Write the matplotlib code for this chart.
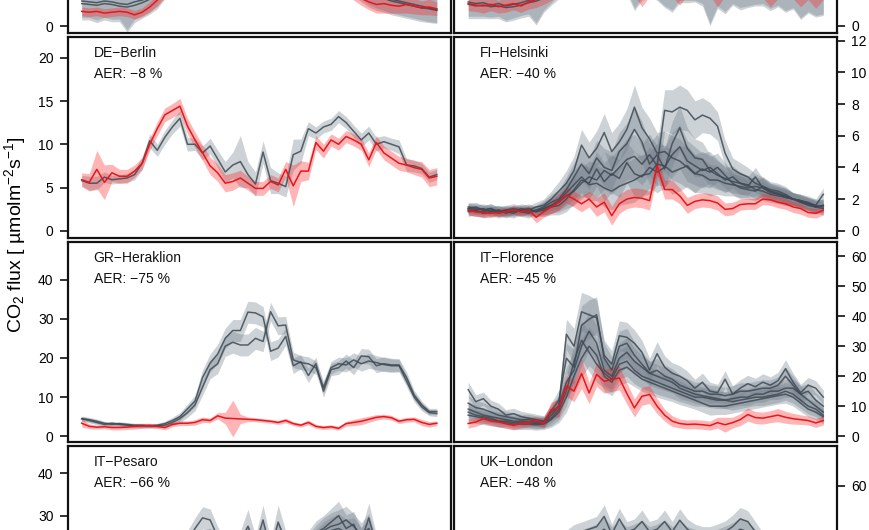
import numpy as np
import matplotlib
matplotlib.use("Agg")
import matplotlib.pyplot as plt

plt.rcParams['font.family'] = ['Liberation Sans', 'DejaVu Sans']
plt.rcParams['mathtext.fontset'] = 'custom'
plt.rcParams['mathtext.rm'] = 'Liberation Sans'
plt.rcParams['mathtext.it'] = 'Liberation Sans:italic'

# ---- data: half-hourly mean CO2 flux (48 steps), grey = reference years, red = lockdown ----
n_steps = 48

# top row (only the lower edge is inside the crop)
tl_gray = [
    [2.9,2.8,2.7,2.9,2.8,2.6,2.5,2.8,3.0,3.4,4.2,5.5,7.0,8.5,10.0,11.0,11.5,11.8,11.0,10.5,10.2,9.8,9.5,9.6,
     9.8,10.2,10.8,11.5,12.0,11.8,11.2,10.5,9.5,8.5,7.5,6.5,5.6,4.8,4.2,3.8,3.4,3.1,2.9,2.7,2.5,2.3,2.1,1.9],
    [2.6,2.5,2.4,2.6,2.5,2.3,2.2,2.4,2.7,3.1,3.8,5.0,6.5,8.0,9.5,10.5,11.0,11.2,10.6,10.0,9.6,9.4,9.2,9.3,
     9.5,9.9,10.4,11.0,11.4,11.2,10.7,10.0,9.2,8.2,7.2,6.2,5.3,4.5,3.9,3.5,3.2,2.9,2.7,2.5,2.3,2.1,2.0,1.8],
]
tl_gray_sd = [1.9,1.8,2.0,1.9,2.0,1.8,2.9,2.0,1.8,1.7,1.8,1.8,1.8,1.9,2.0,2.0,2.0,2.0,2.0,2.0,2.0,2.0,2.0,2.0,
              2.0,2.0,2.0,2.0,2.0,2.0,2.0,2.0,2.0,1.9,1.8,1.8,1.8,1.7,1.7,1.7,1.6,1.6,1.6,1.6,1.6,1.6,1.6,1.5]
tl_red = [1.7,1.6,1.7,1.5,1.6,1.7,1.6,1.3,1.6,2.2,3.0,4.0,5.2,6.5,7.8,8.6,9.0,9.2,8.8,8.4,8.0,7.8,7.6,7.7,
          7.9,8.2,8.6,9.0,9.3,9.0,8.4,7.6,6.8,6.0,5.2,4.5,3.8,3.2,2.8,2.5,2.6,2.4,2.3,2.5,2.3,2.1,2.2,2.0]
tl_red_sd = [0.5,0.5,0.5,0.5,0.5,0.5,0.5,0.5,0.5,0.6,0.7,0.8,0.8,0.8,0.8,0.8,0.8,0.8,0.8,0.8,0.8,0.8,0.8,0.8,
             0.8,0.8,0.8,0.8,0.8,0.8,0.8,0.8,0.8,0.8,0.8,0.8,0.8,0.8,0.9,1.0,1.1,0.9,0.8,1.0,0.9,0.8,0.9,0.8]

tr_gray = [
    [3.0,2.8,2.9,2.6,2.8,2.5,2.7,2.9,3.2,3.4,3.8,4.5,5.5,6.5,7.5,8.0,8.5,8.8,8.6,8.2,7.5,6.8,6.0,5.5,
     5.8,5.2,5.0,5.4,5.2,5.0,4.8,5.2,4.9,5.0,4.8,4.6,4.9,4.7,4.5,4.8,4.6,4.4,4.5,4.3,4.2,4.4,4.1,3.9],
    [2.7,2.5,2.6,2.4,2.5,2.3,2.4,2.6,2.9,3.1,3.5,4.2,5.0,6.0,7.0,7.6,8.0,8.2,8.0,7.6,7.0,6.4,5.7,5.2,
     5.4,5.0,4.8,5.1,4.9,4.7,4.6,4.9,4.6,4.7,4.5,4.4,4.6,4.5,4.3,4.5,4.3,4.2,4.3,4.1,4.0,4.2,3.9,3.7],
]
tr_gray_sd = [1.8,1.6,1.7,1.5,1.6,1.8,1.7,1.6,1.7,3.0,1.8,1.6,1.6,1.8,2.0,2.0,2.2,2.2,2.2,2.2,2.2,2.4,3.8,2.0,
              1.8,1.8,2.5,3.4,2.0,1.8,1.6,2.4,4.6,2.5,3.0,1.8,2.6,2.2,1.8,2.0,2.4,1.8,2.6,2.0,3.2,2.6,2.8,2.4]
tr_red = [2.8,2.6,2.5,2.7,2.4,2.6,2.8,2.5,3.0,3.3,3.7,4.2,4.8,5.4,5.8,6.0,6.2,6.0,5.6,5.2,5.0,4.9,4.8,4.8,
          4.7,4.9,4.8,4.7,4.8,4.9,4.7,4.6,4.8,4.6,4.7,4.6,4.5,4.6,4.7,4.5,4.6,4.4,4.5,4.4,4.5,4.3,4.2,4.3]
tr_red_sd = [0.9,0.8,0.9,0.8,0.8,0.9,0.8,0.8,0.9,1.0,1.0,1.0,1.0,1.0,1.0,1.0,1.0,1.0,1.0,1.0,1.0,1.0,1.0,2.4,
             1.0,1.0,1.0,1.0,2.2,1.0,1.0,1.0,1.0,2.2,1.0,1.0,1.0,1.0,1.0,1.0,2.2,1.0,1.0,1.0,2.1,1.0,2.0,1.0]

# DE-Berlin
berlin_gray = [
    [5.8,5.5,5.5,6.2,5.9,6.0,6.1,6.5,7.8,10.4,9.3,10.8,12.0,13.0,10.0,10.0,9.0,9.8,8.3,6.8,7.6,8.0,6.5,5.4,
     9.1,5.8,5.5,5.1,8.8,9.2,11.8,11.3,12.0,12.3,13.2,12.5,11.5,10.5,11.3,10.0,10.3,10.0,9.7,7.6,7.5,7.2,6.2,6.5],
]
berlin_gray_sd = [0.6,0.8,0.8,0.6,0.5,0.5,0.5,0.6,0.7,0.8,0.7,0.8,0.8,0.9,0.8,0.7,0.8,0.9,1.0,1.2,1.5,3.0,1.5,1.4,
                  1.3,1.5,1.2,1.2,1.8,1.4,0.8,0.7,0.7,0.7,0.7,0.7,0.7,0.8,0.8,0.8,0.7,0.7,0.8,0.7,0.7,0.6,0.6,0.6]
berlin_red = [5.9,5.6,7.1,5.6,6.7,6.3,6.3,6.9,7.8,10.0,11.8,13.4,13.9,14.4,12.1,10.5,9.0,7.5,6.7,5.5,5.7,6.1,5.5,4.9,
              4.9,5.7,5.3,7.1,5.2,6.9,6.9,10.2,9.2,10.5,10.0,10.9,10.5,10.0,8.2,10.2,9.0,8.4,7.8,7.6,7.3,7.1,6.1,6.3]
berlin_red_sd = [0.8,1.0,2.2,2.0,1.0,0.8,0.8,0.7,0.7,0.7,0.8,0.8,0.8,0.9,0.9,0.9,0.9,1.0,1.0,1.0,1.0,0.9,0.8,0.8,
                 0.8,0.8,0.8,0.9,2.4,1.2,1.0,0.8,0.8,0.7,0.7,0.7,0.7,0.7,0.8,0.8,0.8,0.8,0.8,0.8,0.8,0.9,1.0,1.0]

# FI-Helsinki
hel_gray = [
    [1.5,1.4,1.3,1.4,1.2,1.3,1.2,1.4,1.3,1.5,1.6,2.0,2.5,3.0,3.8,5.4,4.6,5.2,6.2,5.0,5.6,6.4,7.8,6.5,
     5.8,4.9,5.0,4.6,4.4,4.0,3.6,3.5,3.2,3.2,3.0,2.9,2.8,2.7,2.8,2.7,2.5,2.3,2.1,2.0,1.9,1.7,1.6,2.3],
    [1.4,1.3,1.4,1.2,1.3,1.1,1.3,1.2,1.3,1.2,1.4,1.6,1.8,2.2,2.5,3.0,3.4,3.2,3.8,3.5,4.0,4.5,4.7,4.2,
     4.8,4.1,7.6,7.5,7.8,7.6,7.0,7.3,7.1,6.6,4.9,3.9,3.6,3.4,3.0,2.8,2.6,2.5,2.3,2.0,1.9,1.7,1.5,1.6],
    [1.3,1.2,1.2,1.3,1.1,1.2,1.3,1.2,1.1,1.3,1.5,1.8,2.0,2.6,3.4,4.2,3.6,4.6,4.0,3.8,5.0,5.5,6.4,5.6,
     4.2,4.8,3.9,5.5,6.5,5.2,4.6,4.5,3.8,3.5,3.3,3.1,3.0,2.9,2.6,2.5,2.3,2.2,2.1,2.0,1.8,1.7,1.5,1.6],
    [1.2,1.3,1.1,1.2,1.3,1.2,1.1,1.3,1.4,1.2,1.3,1.5,1.6,2.0,2.6,3.2,3.0,3.9,3.1,3.6,3.3,4.3,3.6,3.4,
     4.0,3.7,4.0,4.8,5.3,4.4,4.1,3.8,4.0,3.6,3.2,3.4,3.0,2.8,3.4,2.7,2.4,2.3,2.2,2.0,1.8,1.6,1.5,1.4],
    [1.4,1.5,1.3,1.4,1.2,1.3,1.4,1.3,1.2,1.3,1.4,1.6,1.9,2.4,2.9,3.4,2.9,3.0,2.7,2.5,2.8,3.0,3.2,3.5,
     3.6,4.2,4.1,3.7,3.9,4.1,3.6,3.9,3.7,4.0,3.5,3.0,2.7,2.6,2.5,2.8,2.5,2.4,2.2,2.0,1.9,1.8,1.6,1.5],
]
hel_gray_sd = [0.3,0.3,0.3,0.3,0.3,0.3,0.3,0.3,0.3,0.3,0.4,0.5,0.6,0.8,0.9,1.0,1.0,1.1,1.2,1.2,1.2,1.3,1.4,1.3,
               1.3,1.3,1.3,1.4,1.4,1.3,1.2,1.1,1.0,0.9,0.8,0.7,0.7,0.6,0.6,0.6,0.5,0.5,0.5,0.4,0.4,0.4,0.4,0.4]
hel_red = [1.3,1.2,1.15,1.1,1.15,1.2,1.3,1.2,1.3,0.85,1.2,1.5,1.8,2.25,2.0,1.7,2.0,1.5,1.8,0.95,1.7,2.0,2.1,2.05,
           1.9,4.1,2.6,2.6,2.2,1.6,1.85,1.95,1.9,1.75,1.35,1.4,1.65,1.7,1.7,2.0,1.95,1.8,1.7,1.5,1.4,1.15,1.1,1.3]
hel_red_sd = [0.3,0.3,0.3,0.25,0.25,0.25,0.25,0.25,0.25,0.35,0.35,0.4,0.5,0.5,0.5,0.5,0.5,0.6,0.6,0.6,0.6,0.6,0.6,0.6,
              0.6,0.6,0.6,0.6,0.5,0.5,0.45,0.45,0.45,0.45,0.4,0.4,0.35,0.35,0.35,0.35,0.35,0.35,0.35,0.35,0.35,0.3,0.3,0.3]

# GR-Heraklion
her_gray = [
    [4.5,4.2,3.8,3.3,3.0,3.2,3.0,2.8,2.8,2.6,2.8,3.2,4.0,5.0,7.0,9.0,15.0,18.7,21.0,25.0,27.0,27.0,31.7,31.5,
     30.5,21.7,22.5,25.5,18.0,19.0,15.5,18.5,11.5,17.0,17.5,19.2,17.5,20.5,20.3,18.0,18.5,18.2,18.2,15.0,10.5,8.0,6.3,6.3],
    [4.4,4.0,3.5,3.0,3.3,3.0,2.8,2.6,2.6,2.7,2.6,2.8,3.5,4.5,6.0,8.0,12.5,17.0,18.5,23.0,24.0,23.3,23.3,25.0,
     24.2,31.8,28.2,28.4,19.5,18.8,18.5,17.5,12.5,17.5,18.5,18.2,19.5,18.5,19.2,18.8,18.3,18.0,18.0,14.0,10.0,7.5,6.0,5.8],
]
her_gray_sd = [0.6,0.6,0.6,0.5,0.5,0.5,0.5,0.5,0.5,0.5,0.5,0.6,0.8,1.0,1.2,1.5,2.0,2.3,2.5,2.6,2.8,2.8,2.8,2.8,
               2.6,2.4,2.3,2.2,2.0,1.8,1.8,1.7,1.6,1.6,1.7,1.8,1.8,1.9,1.9,1.8,1.8,1.7,1.6,1.4,1.2,1.0,0.8,0.8]
her_red = [3.3,2.5,2.3,2.4,2.2,2.2,2.3,2.5,2.6,2.7,2.5,2.2,3.0,3.3,3.3,3.5,4.2,4.0,5.2,4.6,4.5,4.4,4.3,4.2,
           4.0,3.8,3.5,4.0,3.2,2.8,3.5,2.5,2.2,2.4,2.0,3.2,3.5,3.8,4.3,4.8,5.0,4.7,3.8,4.2,4.3,3.5,3.0,3.3]
her_red_sd = [1.0,0.6,0.5,0.5,0.6,0.6,0.6,0.7,0.6,0.6,0.5,0.6,0.6,0.6,0.6,0.7,0.7,0.6,0.8,1.5,4.7,1.2,0.6,0.5,
              0.5,0.5,0.5,0.6,0.5,0.5,0.6,0.5,0.5,0.5,0.5,0.6,0.8,0.9,0.8,0.7,0.6,0.6,0.6,0.6,0.6,0.8,0.7,0.6]

# IT-Florence
flo_gray = [
    [15.5,11.5,12.5,10.0,9.0,7.0,7.5,6.5,6.0,5.5,5.0,8.0,10.0,34.0,30.0,41.5,40.5,39.5,27.0,24.0,33.5,33.0,31.0,28.0,
     22.0,27.5,23.0,21.0,20.0,18.5,16.0,18.0,15.0,14.5,19.0,14.0,16.0,17.5,16.5,18.0,17.0,18.5,22.5,18.0,14.5,17.0,16.0,13.0],
    [11.0,9.5,9.0,8.0,7.0,6.5,6.0,5.5,5.5,5.0,4.8,8.5,12.0,26.0,23.0,37.0,39.0,40.5,26.0,22.0,30.0,31.0,27.0,24.0,
     21.0,22.0,20.0,19.0,17.0,16.0,15.0,15.0,14.0,14.0,13.5,14.0,15.0,15.0,15.5,16.0,16.0,17.0,20.0,17.0,14.0,15.0,12.0,10.0],
    [9.0,8.0,7.0,6.5,6.0,5.5,5.0,5.0,4.8,4.5,4.5,7.0,10.0,18.0,22.0,30.0,35.0,31.0,22.0,20.0,26.0,28.0,25.0,23.0,
     21.0,20.0,19.0,18.0,16.0,15.0,14.0,13.5,13.0,12.5,12.0,12.5,13.0,13.0,14.0,14.0,15.0,15.0,16.0,16.0,14.0,12.0,10.0,8.0],
    [8.0,7.0,6.5,6.0,5.0,5.0,4.5,4.5,4.5,4.2,4.5,6.0,9.0,15.0,25.0,32.0,28.0,24.0,21.0,19.0,24.0,25.0,22.0,20.0,
     19.0,18.0,17.0,16.0,15.0,14.0,13.0,13.0,12.5,12.0,12.0,11.5,12.0,12.5,13.0,13.0,13.5,14.0,15.0,14.0,12.0,10.0,9.0,7.0],
    [7.0,6.5,6.0,5.5,5.0,4.5,4.0,4.0,4.0,3.8,4.0,5.5,8.0,13.0,20.0,26.0,30.0,27.0,20.0,18.0,22.0,23.0,21.0,19.0,
     18.0,17.0,16.0,15.0,14.0,13.0,12.0,11.0,10.0,10.0,10.0,10.5,11.0,11.5,12.0,12.5,13.0,13.5,14.0,13.0,11.0,9.0,8.0,6.5],
]
flo_gray_sd = [2.5,2.3,2.2,2.0,2.0,1.8,1.8,1.8,1.8,1.8,1.8,2.5,3.5,5.0,6.0,6.5,6.5,6.0,5.0,4.5,5.0,5.0,4.5,4.0,
               4.0,4.0,3.8,3.5,3.5,3.2,3.0,3.0,3.0,2.8,2.8,2.8,2.8,2.8,2.8,2.8,2.8,2.8,3.0,3.0,2.8,2.6,2.5,2.4]
flo_red = [4.2,4.7,5.8,5.0,4.7,4.1,3.6,4.2,4.7,5.0,4.4,8.9,9.4,16.7,15.0,20.9,14.4,20.6,18.3,18.9,19.4,14.2,9.4,13.3,
           13.9,10.0,7.0,5.0,4.2,3.9,4.0,3.8,3.5,4.5,3.8,4.5,5.5,7.2,6.2,6.0,6.5,7.0,6.3,5.8,5.5,5.2,4.4,5.2]
flo_red_sd = [1.5,1.5,1.5,1.5,1.5,1.5,1.5,1.5,1.5,1.5,1.5,2.5,3.0,3.5,3.5,5.0,3.5,4.0,4.0,4.0,4.0,3.5,3.0,3.0,
              3.0,2.5,2.0,1.8,1.5,1.5,1.5,1.5,1.5,1.8,2.5,1.8,2.0,2.2,2.0,2.0,2.0,2.2,2.0,1.8,1.6,1.5,1.5,1.5]

# IT-Pesaro
pes_gray = [
    [7.5,6.8,6.0,5.5,5.2,5.0,5.2,5.8,7.0,9.0,12.0,16.0,19.0,22.0,24.0,27.0,29.5,29.0,25.0,22.0,23.0,24.0,27.5,23.0,
     29.0,22.0,28.5,24.0,23.0,22.5,24.0,26.0,27.0,28.5,30.0,27.0,28.0,24.0,29.5,23.0,20.0,18.0,16.0,14.0,12.0,10.5,9.0,8.0],
    [6.8,6.2,5.5,5.0,4.8,4.6,4.8,5.2,6.2,8.0,11.0,14.5,17.5,20.0,21.5,23.0,24.0,24.5,23.0,21.0,21.5,22.5,24.0,22.0,
     25.0,21.0,24.5,22.5,22.0,21.5,23.0,25.0,26.5,27.5,28.0,29.0,27.5,25.5,27.0,22.0,19.5,17.0,15.0,13.5,11.5,10.0,8.5,7.5],
    [6.0,5.5,5.0,4.6,4.4,4.2,4.4,4.8,5.6,7.2,10.0,13.0,16.0,18.5,20.0,21.0,22.0,22.5,21.5,20.0,20.5,21.0,22.0,21.0,
     22.5,20.5,22.0,21.5,21.0,21.0,22.0,24.0,25.5,26.5,27.0,26.0,26.5,24.5,25.5,21.0,19.0,16.5,14.5,13.0,11.0,9.5,8.0,7.0],
]
pes_gray_sd = [1.0,1.0,0.9,0.9,0.9,0.9,0.9,1.0,1.2,1.5,1.8,2.0,2.2,2.3,2.4,2.5,2.6,2.6,2.4,2.2,2.2,2.3,4.0,2.3,
               3.5,2.3,4.0,2.4,2.4,2.3,2.4,2.8,3.0,3.2,3.4,3.2,3.0,2.8,3.5,2.6,2.4,2.2,2.0,1.8,1.6,1.4,1.2,1.1]
pes_red = [4.2,3.9,3.6,3.4,3.2,3.1,3.2,3.4,3.8,4.6,5.4,6.2,7.0,7.4,7.6,7.8,8.0,7.9,7.4,7.2,7.4,7.6,7.8,7.6,
           7.9,7.6,7.7,7.8,7.6,7.4,7.6,7.9,8.2,8.4,8.5,8.2,8.0,7.8,8.0,7.0,6.4,5.8,5.4,5.0,4.7,4.4,4.2,4.0]
pes_red_sd = [0.8,0.8,0.7,0.7,0.7,0.7,0.7,0.7,0.8,0.9,1.0,1.1,1.2,1.2,1.3,1.3,1.3,1.3,1.2,1.2,1.2,1.2,1.3,1.2,
              1.3,1.2,1.2,1.2,1.2,1.2,1.2,1.3,1.3,1.3,1.4,1.3,1.3,1.2,1.3,1.2,1.1,1.0,1.0,0.9,0.9,0.8,0.8,0.8]

# UK-London
lon_gray = [
    [14,12,11,10,9.5,9,9.5,11,14,19,25,31,36,39,41,42,43,44,48,41,47,42,43,46,
     42,43,46,42,46.5,43,41,40,40,41,42,44,47,46,42,38,34,30,27,24,21,19,17,15],
    [12,11,10,9,8.5,8,8.5,10,12.5,17,22,28,33,36,38,39,40,41,43,40,42,40,41,42,
     40,41,42,40,42,40,39,38,38,39,40,41,43,42,39,35,31,28,25,22,20,18,16,14],
]
lon_gray_sd = [2.0,2.0,1.8,1.8,1.7,1.7,1.7,1.8,2.0,2.4,2.8,3.2,3.5,3.6,3.8,3.8,3.9,4.0,4.5,4.0,4.2,4.0,4.0,4.5,
               4.0,4.0,4.5,4.0,4.5,4.0,4.0,4.0,4.0,4.0,4.2,4.5,4.5,4.2,4.0,3.6,3.2,3.0,2.8,2.6,2.4,2.2,2.1,2.0]
lon_red = [9,8,7.5,7,6.8,6.5,7,8,9.5,12,15,17,19,20,21,21.5,22,22.5,23,22,22.5,22,22,22.5,
           22,22,22.5,22,22.5,22,21.5,21,21,21.5,22,22.5,23,22.5,21,19.5,18,16.5,15,14,13,12,11,10]
lon_red_sd = [1.5,1.4,1.3,1.3,1.2,1.2,1.2,1.3,1.5,1.8,2.0,2.2,2.3,2.4,2.5,2.5,2.5,2.5,2.6,2.5,2.5,2.5,2.5,2.5,
              2.5,2.5,2.5,2.5,2.5,2.5,2.4,2.4,2.4,2.4,2.5,2.5,2.6,2.5,2.4,2.3,2.2,2.0,1.9,1.8,1.7,1.6,1.5,1.5]

panel_names = ['', '', 'DE\u2212Berlin', 'FI\u2212Helsinki', 'GR\u2212Heraklion', 'IT\u2212Florence',
               'IT\u2212Pesaro', 'UK\u2212London']
panel_aer = [None, None, -8, -40, -75, -45, -66, -48]

# ---- layout (pixel based, the crop cuts the outer rows) ----
W, H = 870, 530
row_tops = [-167.7, 37, 241.7, 446.4]
col_lefts = [67.5, 454]
pw, ph = 383.5, 200.7

# only the ticks that fall inside the cropped picture are labelled
panels = [
    (tl_gray, tl_gray_sd, tl_red, tl_red_sd, (-0.8, 22.4), [0]),
    (tr_gray, tr_gray_sd, tr_red, tr_red_sd, (-0.9, 24.3), [0]),
    (berlin_gray, berlin_gray_sd, berlin_red, berlin_red_sd, (-0.8, 22.4), [0, 5, 10, 15, 20]),
    (hel_gray, hel_gray_sd, hel_red, hel_red_sd, (-0.44, 12.23), [0, 2, 4, 6, 8, 10, 12]),
    (her_gray, her_gray_sd, her_red, her_red_sd, (-1.6, 49.7), [0, 10, 20, 30, 40]),
    (flo_gray, flo_gray_sd, flo_red, flo_red_sd, (-2.1, 64.9), [0, 10, 20, 30, 40, 50, 60]),
    (pes_gray, pes_gray_sd, pes_red, pes_red_sd, (-0.9, 46.3), [30, 40]),
    (lon_gray, lon_gray_sd, lon_red, lon_red_sd, (-3.0, 75.3), [60]),
]

band_gray = '#6f7c88'
line_gray = '#3e4953'
band_red = '#ff2020'
line_red = '#e8161b'

fig = plt.figure(figsize=(W / 100, H / 100), dpi=100)
x = np.arange(n_steps)
pad = 0.04 * (n_steps - 1)

for k, (grays, gsd, red, rsd, ylim, yticks) in enumerate(panels):
    row, col = divmod(k, 2)
    x0, y0 = col_lefts[col], row_tops[row]
    ax = fig.add_axes([x0 / W, 1 - (y0 + ph) / H, pw / W, ph / H])

    gsd = np.array(gsd)
    for g in grays:
        g = np.array(g, dtype=float)
        ax.fill_between(x, g - gsd, g + gsd, color=band_gray, alpha=0.34, lw=0)
        ax.plot(x, g, color=line_gray, lw=1.1, alpha=0.85)
    red = np.array(red, dtype=float)
    rsd = np.array(rsd)
    ax.fill_between(x, red - rsd, red + rsd, color=band_red, alpha=0.33, lw=0)
    ax.plot(x, red, color=line_red, lw=1.1)

    ax.set_xlim(-pad, n_steps - 1 + pad)
    ax.set_ylim(*ylim)
    ax.set_yticks(yticks)
    ax.set_xticks([])
    if col == 0:
        ax.yaxis.tick_left()
    else:
        ax.yaxis.tick_right()
    ax.tick_params(axis='y', length=6, width=1.3, labelsize=10, pad=4, color='#222222')
    for s in ax.spines.values():
        s.set_linewidth(1.6)
        s.set_color('#111111')

    if panel_names[k]:
        ax.text(26 / pw, 1 - 16 / ph, panel_names[k], transform=ax.transAxes,
                ha='left', va='center', fontsize=10, color='#111111')
        ax.text(26 / pw, 1 - 37 / ph, 'AER: \u2212%d %%' % abs(panel_aer[k]), transform=ax.transAxes,
                ha='left', va='center', fontsize=10, color='#111111')

fig.text(15 / W, 1 - 235 / H, r'CO$_2$ flux [ µmolm$^{-2}$s$^{-1}$]', rotation=90,
         ha='center', va='center', fontsize=14)

fig.savefig('out.png', dpi=100)
